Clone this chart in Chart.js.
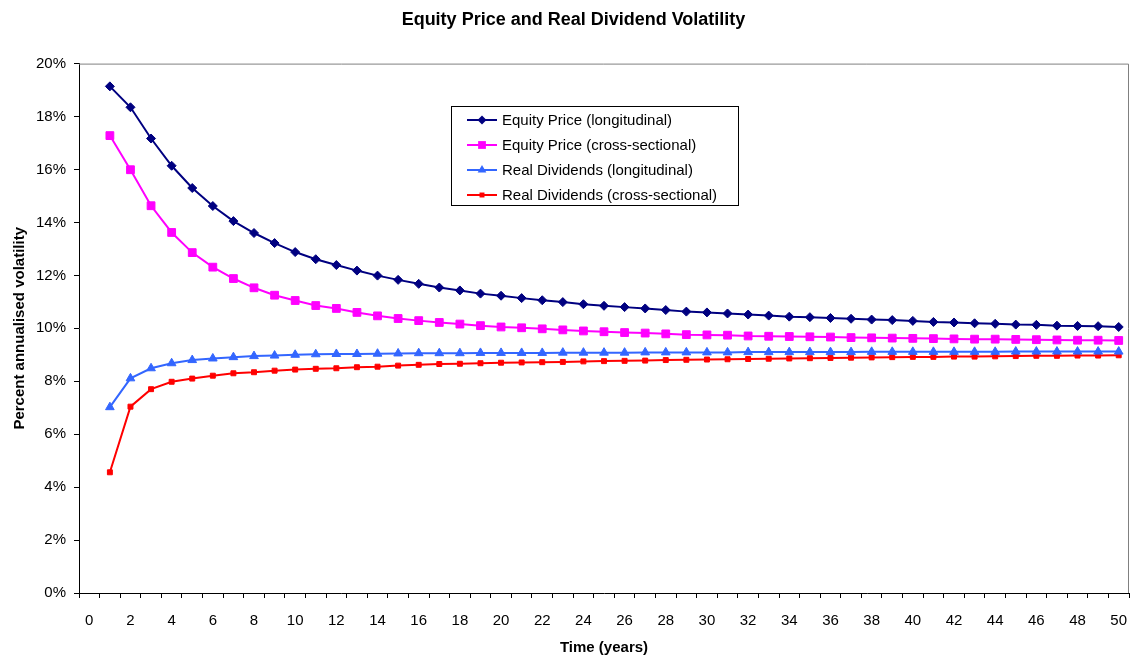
<!DOCTYPE html>
<html>
<head>
<meta charset="utf-8">
<script src="https://cdn.jsdelivr.net/npm/chart.js@4.4.0/dist/chart.umd.min.js"></script>
<style>
  body { margin: 0; background: #fff; }
  #wrap { width: 1130px; height: 657px; }
</style>
</head>
<body>
<div id="wrap"><canvas id="volChart" width="1130" height="657"></canvas></div>
<script>
// x categories (years); category 0 is shown on the axis but has no data
const years = [1, 2, 3, 4, 5, 6, 7, 8, 9, 10, 11, 12, 13, 14, 15, 16, 17, 18, 19, 20,
  21, 22, 23, 24, 25, 26, 27, 28, 29, 30, 31, 32, 33, 34, 35, 36, 37, 38, 39, 40,
  41, 42, 43, 44, 45, 46, 47, 48, 49, 50];

// percent annualised volatility
const equityLong = [19.14, 18.35, 17.17, 16.14, 15.30, 14.62, 14.05, 13.60, 13.22, 12.88,
  12.61, 12.39, 12.18, 11.99, 11.83, 11.68, 11.54, 11.43, 11.31, 11.23,
  11.14, 11.06, 10.99, 10.91, 10.85, 10.80, 10.75, 10.69, 10.63, 10.60,
  10.56, 10.52, 10.48, 10.44, 10.42, 10.39, 10.36, 10.33, 10.31, 10.28,
  10.24, 10.22, 10.19, 10.17, 10.14, 10.13, 10.10, 10.09, 10.08, 10.05];
const equityCross = [17.28, 15.99, 14.63, 13.62, 12.86, 12.31, 11.88, 11.53, 11.25, 11.05,
  10.86, 10.75, 10.60, 10.47, 10.37, 10.29, 10.22, 10.16, 10.10, 10.05,
  10.02, 9.98, 9.94, 9.90, 9.87, 9.84, 9.82, 9.79, 9.76, 9.75,
  9.74, 9.71, 9.70, 9.69, 9.68, 9.67, 9.65, 9.64, 9.63, 9.62,
  9.61, 9.60, 9.59, 9.59, 9.58, 9.57, 9.56, 9.55, 9.55, 9.54];
const dividendLong = [7.02, 8.11, 8.49, 8.68, 8.80, 8.86, 8.91, 8.95, 8.97, 9.00,
  9.02, 9.03, 9.03, 9.04, 9.05, 9.06, 9.06, 9.06, 9.07, 9.07,
  9.07, 9.07, 9.08, 9.08, 9.08, 9.08, 9.09, 9.09, 9.09, 9.09,
  9.09, 9.10, 9.10, 9.10, 9.10, 9.10, 9.10, 9.11, 9.11, 9.11,
  9.11, 9.11, 9.11, 9.11, 9.12, 9.12, 9.12, 9.12, 9.12, 9.12];
const dividendCross = [4.56, 7.04, 7.70, 7.98, 8.10, 8.21, 8.30, 8.34, 8.40, 8.44,
  8.47, 8.49, 8.53, 8.55, 8.59, 8.62, 8.65, 8.66, 8.68, 8.70,
  8.71, 8.72, 8.73, 8.75, 8.76, 8.77, 8.78, 8.80, 8.81, 8.82,
  8.83, 8.84, 8.85, 8.86, 8.87, 8.88, 8.89, 8.90, 8.91, 8.92,
  8.92, 8.93, 8.93, 8.94, 8.95, 8.96, 8.96, 8.97, 8.97, 8.98];

const seriesNames = ['Equity Price (longitudinal)', 'Equity Price (cross-sectional)',
  'Real Dividends (longitudinal)', 'Real Dividends (cross-sectional)'];

const xLabels = ['0'].concat(years.map(String));
const FONT = "Arial, 'Liberation Sans', sans-serif";

function series(label, values, color, style, radius) {
  return {
    label: label,
    data: [null].concat(values),
    borderColor: color,
    backgroundColor: color,
    borderWidth: 2,
    pointStyle: style,
    pointRadius: radius,
    pointBorderWidth: 1,
    pointBorderColor: color,
    pointBackgroundColor: color,
    tension: 0
  };
}

// little marker drawer for the in-plot legend
function drawMarker(ctx, style, x, y, r, color) {
  ctx.save();
  ctx.fillStyle = color;
  ctx.beginPath();
  if (style === 'rectRot') {
    ctx.moveTo(x, y - r); ctx.lineTo(x + r, y); ctx.lineTo(x, y + r); ctx.lineTo(x - r, y);
  } else if (style === 'triangle') {
    ctx.moveTo(x, y - r); ctx.lineTo(x + r * 0.87, y + r * 0.5); ctx.lineTo(x - r * 0.87, y + r * 0.5);
  } else {
    const s = r / Math.SQRT2;
    ctx.rect(x - s, y - s, 2 * s, 2 * s);
  }
  ctx.closePath();
  ctx.fill();
  ctx.restore();
}

const boxLegend = {
  id: 'boxLegend',
  afterDraw(chart) {
    const ctx = chart.ctx;
    const area = chart.chartArea;
    // grey frame on top and right of the plot
    ctx.save();
    ctx.strokeStyle = '#808080';
    ctx.lineWidth = 1;
    ctx.beginPath();
    ctx.moveTo(area.left, area.top + 0.5);
    ctx.lineTo(area.right - 0.5, area.top + 0.5);
    ctx.lineTo(area.right - 0.5, area.bottom);
    ctx.stroke();

    // legend box
    const bx = 451, by = 106, bw = 287, bh = 99;
    ctx.fillStyle = '#fff';
    ctx.fillRect(bx, by, bw, bh);
    ctx.strokeStyle = '#000';
    ctx.strokeRect(bx + 0.5, by + 0.5, bw, bh);
    ctx.font = '15px ' + FONT;
    ctx.textBaseline = 'middle';
    chart.data.datasets.forEach((ds, i) => {
      const y = 120 + i * 25;
      ctx.strokeStyle = ds.borderColor;
      ctx.lineWidth = 2;
      ctx.beginPath();
      ctx.moveTo(467, y);
      ctx.lineTo(497, y);
      ctx.stroke();
      drawMarker(ctx, ds.pointStyle, 482, y, ds.pointRadius, ds.borderColor);
      ctx.fillStyle = '#000';
      ctx.fillText(ds.label, 502, y + 1);
    });
    ctx.restore();
  }
};

new Chart(document.getElementById('volChart').getContext('2d'), {
  type: 'line',
  data: {
    labels: xLabels,
    datasets: [
      series(seriesNames[0], equityLong, '#000080', 'rectRot', 4.5),
      series(seriesNames[1], equityCross, '#FF00FF', 'rect', 5.5),
      series(seriesNames[2], dividendLong, '#3366FF', 'triangle', 5),
      series(seriesNames[3], dividendCross, '#FF0000', 'rect', 3.5)
    ]
  },
  options: {
    responsive: false,
    animation: false,
    layout: { autoPadding: false, padding: { left: 18, right: 1, top: 0, bottom: 0 } },
    plugins: {
      legend: { display: false },
      tooltip: { enabled: false },
      title: {
        display: true,
        text: 'Equity Price and Real Dividend Volatility',
        color: '#000',
        font: { family: FONT, size: 18, weight: 'bold' },
        padding: { top: 9, bottom: 33 }
      }
    },
    scales: {
      x: {
        type: 'category',
        offset: true,
        border: { color: '#000', width: 1 },
        grid: { offset: true, drawOnChartArea: false, drawTicks: true, tickLength: 5, color: '#000' },
        ticks: {
          autoSkip: false,
          maxRotation: 0,
          color: '#000',
          padding: 0,
          // tall line height pushes the labels down without widening the side padding
          font: { family: FONT, size: 15, lineHeight: '46px' },
          callback: (v, i) => (i % 2 === 0 ? xLabels[i] : '')
        },
        title: {
          display: true,
          text: 'Time (years)',
          color: '#000',
          font: { family: FONT, size: 15, weight: 'bold' },
          padding: { top: 1, bottom: 0 }
        },
        afterFit: (scale) => {
          scale.height = 64;
          scale.paddingLeft = 0;
          scale.paddingRight = 0;
        }
      },
      y: {
        min: 0,
        max: 20,
        border: { color: '#000', width: 1 },
        grid: { drawOnChartArea: false, drawTicks: true, tickLength: 5, color: '#000' },
        ticks: {
          stepSize: 2,
          color: '#000',
          padding: 8,
          font: { family: FONT, size: 15 },
          callback: (v) => v + '%'
        },
        title: {
          display: true,
          text: 'Percent annualised volatility',
          color: '#000',
          font: { family: FONT, size: 15, weight: 'bold' },
          padding: { top: -7, bottom: 0 }
        },
        afterFit: (scale) => { scale.width = 61; }
      }
    }
  },
  plugins: [boxLegend]
});
</script>
</body>
</html>
